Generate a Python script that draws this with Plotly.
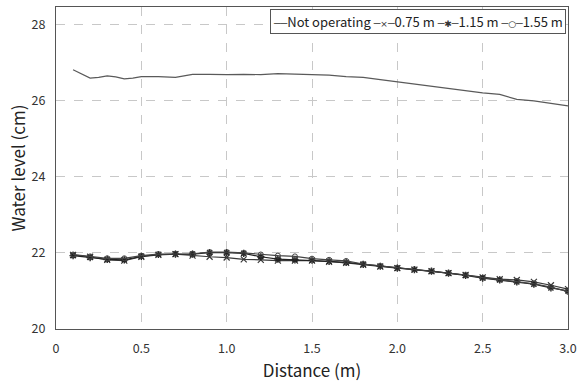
import plotly.graph_objects as go

# Water level without the device running (dense profile)
idle_x = [0.10, 0.15, 0.20, 0.25, 0.30, 0.35, 0.40, 0.45, 0.50, 0.60, 0.70, 0.75,
          0.80, 0.90, 1.00, 1.10, 1.20, 1.30, 1.40, 1.50, 1.60, 1.70, 1.80, 1.90,
          2.00, 2.10, 2.20, 2.30, 2.40, 2.50, 2.60, 2.70, 2.80, 2.90, 3.00]
idle_y = [26.82, 26.70, 26.60, 26.62, 26.66, 26.63, 26.58, 26.60, 26.64, 26.64, 26.62, 26.66,
          26.70, 26.70, 26.69, 26.70, 26.69, 26.72, 26.71, 26.70, 26.68, 26.64, 26.62, 26.56,
          26.50, 26.44, 26.38, 26.32, 26.26, 26.21, 26.17, 26.04, 26.00, 25.94, 25.87]

# Measured stations for the operating cases
dist = [0.1, 0.2, 0.3, 0.4, 0.5, 0.6, 0.7, 0.8, 0.9, 1.0,
        1.1, 1.2, 1.3, 1.4, 1.5, 1.6, 1.7, 1.8, 1.9, 2.0,
        2.1, 2.2, 2.3, 2.4, 2.5, 2.6, 2.7, 2.8, 2.9, 3.0]
level_075 = [21.95, 21.90, 21.82, 21.80, 21.90, 21.95, 21.97, 21.93, 21.90, 21.88,
             21.83, 21.82, 21.80, 21.80, 21.80, 21.77, 21.74, 21.69, 21.64, 21.60,
             21.56, 21.52, 21.47, 21.42, 21.36, 21.31, 21.29, 21.24, 21.15, 21.05]
level_115 = [21.93, 21.88, 21.83, 21.82, 21.91, 21.96, 21.97, 21.97, 22.01, 22.01,
             21.99, 21.90, 21.84, 21.82, 21.81, 21.78, 21.75, 21.70, 21.65, 21.60,
             21.56, 21.52, 21.47, 21.41, 21.34, 21.29, 21.24, 21.18, 21.08, 21.00]
level_155 = [21.96, 21.91, 21.86, 21.86, 21.93, 21.97, 21.98, 21.98, 22.02, 22.02,
             22.00, 21.96, 21.93, 21.91, 21.85, 21.82, 21.79, 21.71, 21.66, 21.61,
             21.57, 21.52, 21.47, 21.42, 21.35, 21.30, 21.25, 21.19, 21.10, 20.98]

series_names = ["Not operating", "0.75 m", "1.15 m", "1.55 m"]
legend_glyphs = ["", "×", "✱", "○"]

x_ticks = [0, 0.5, 1.0, 1.5, 2.0, 2.5, 3.0]
x_labels = ["0", "0.5", "1.0", "1.5", "2.0", "2.5", "3.0"]
y_ticks = [20, 22, 24, 26, 28]

FONT = "Noto Sans CJK KR, Noto Sans, sans-serif"

fig = go.Figure()
fig.add_trace(go.Scatter(x=idle_x, y=idle_y, mode="lines", name=series_names[0],
                         line=dict(color="#5a5a5a", width=1.2)))
fig.add_trace(go.Scatter(x=dist, y=level_075, mode="lines+markers", name=series_names[1],
                         line=dict(color="#3a3a3a", width=1.2),
                         marker=dict(symbol="x-thin-open", size=6,
                                     line=dict(color="#3a3a3a", width=1.2))))
fig.add_trace(go.Scatter(x=dist, y=level_115, mode="lines+markers", name=series_names[2],
                         line=dict(color="#222222", width=1.2),
                         marker=dict(symbol="asterisk-open", size=6,
                                     line=dict(color="#222222", width=1.4))))
fig.add_trace(go.Scatter(x=dist, y=level_155, mode="lines+markers", name=series_names[3],
                         line=dict(color="#444444", width=1.2),
                         marker=dict(symbol="circle-open", size=5, color="#444444",
                                     line=dict(color="#444444", width=1))))

# Compact one-line key in a boxed annotation
def key_entry(name, glyph):
    line = "<span style='font-family:DejaVu Sans;font-size:11px;color:#555'>"
    if glyph:
        sym = line + "─</span><span style='font-family:DejaVu Sans;font-size:9px;color:#333'>" \
              + glyph + "</span>" + line + "─</span>"
    else:
        sym = line + "──</span>"
    return sym + name

key_text = " ".join(key_entry(n, g) for n, g in zip(series_names, legend_glyphs))

fig.add_annotation(xref="paper", yref="paper", x=0.996, y=0.994,
                   xanchor="right", yanchor="top", showarrow=False,
                   text=key_text, align="left",
                   font=dict(family=FONT, size=13, color="#222222"),
                   bgcolor="white", bordercolor="#555555", borderwidth=1, borderpad=2)

fig.update_layout(
    width=583, height=382,
    margin=dict(l=56, r=6, t=7, b=53),
    paper_bgcolor="white", plot_bgcolor="white",
    font=dict(family=FONT, color="#333333", size=12),
    showlegend=False,
)
fig.update_xaxes(range=[0, 3.0], tickvals=x_ticks, ticktext=x_labels,
                 showgrid=True, gridcolor="#c8c8c8", griddash="dash", gridwidth=1,
                 showline=True, linecolor="#555555", linewidth=1, mirror=True,
                 ticks="", zeroline=False, ticklabeloverflow="allow",
                 ticklabelstandoff=8,
                 tickfont=dict(size=12.5, color="#333333"),
                 title=dict(text="Distance (m)", font=dict(size=17, color="#222222"),
                            standoff=1))
fig.update_yaxes(range=[20, 28.47], tickvals=y_ticks,
                 showgrid=True, gridcolor="#c8c8c8", griddash="dash", gridwidth=1,
                 showline=True, linecolor="#555555", linewidth=1, mirror=True,
                 ticks="", zeroline=False, ticklabelstandoff=7,
                 tickfont=dict(size=12.5, color="#333333"),
                 title=dict(text="Water level (cm)", font=dict(size=17, color="#222222"),
                            standoff=1))

fig.write_html("out.html")
